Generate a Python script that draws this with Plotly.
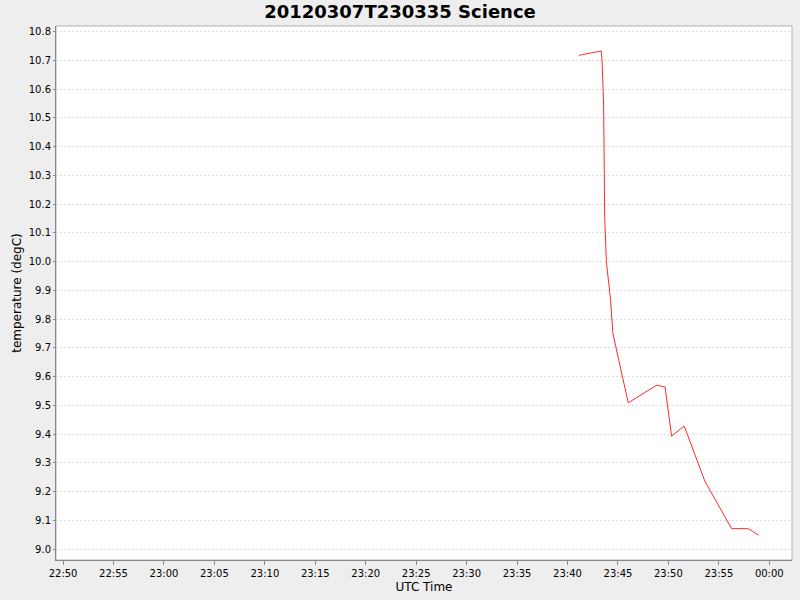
import plotly.graph_objects as go

# readings picked off the reference chart
times = [
    "2012-03-07 23:41:08", "2012-03-07 23:42:00", "2012-03-07 23:43:20",
    "2012-03-07 23:43:25", "2012-03-07 23:43:29", "2012-03-07 23:43:35",
    "2012-03-07 23:43:41", "2012-03-07 23:43:51", "2012-03-07 23:44:16",
    "2012-03-07 23:44:30", "2012-03-07 23:46:01", "2012-03-07 23:48:50",
    "2012-03-07 23:49:40", "2012-03-07 23:50:19", "2012-03-07 23:51:34",
    "2012-03-07 23:53:37", "2012-03-07 23:56:16", "2012-03-07 23:57:55",
    "2012-03-07 23:58:57",
]
temps = [
    10.718, 10.724, 10.733,
    10.707, 10.626, 10.542,
    10.157, 10.0, 9.868,
    9.75, 9.509, 9.570,
    9.564, 9.393, 9.428,
    9.236, 9.071, 9.071,
    9.048,
]

title = "20120307T230335 Science"
x_range = ["2012-03-07 22:49:18", "2012-03-08 00:02:15"]
y_range = [8.962, 10.82]

fig = go.Figure()
fig.add_trace(go.Scatter(x=times, y=temps, mode="lines",
                         line=dict(color="#ff2a2a", width=1),
                         showlegend=False))

axis = dict(showline=True, linecolor="#888888", linewidth=1, zeroline=False,
            ticks="outside", tickcolor="#888888", automargin=False,
            tickfont=dict(family="DejaVu Sans", size=10, color="#000000"))

fig.update_xaxes(axis, showgrid=False, type="date", range=x_range,
                 tick0="2012-03-07 22:50", dtick=300000, tickformat="%H:%M", ticklen=4,
                 title=dict(text="UTC Time", font=dict(family="DejaVu Sans", size=12, color="#000000"),
                            standoff=4))
fig.update_yaxes(axis, showgrid=True, gridcolor="#dcdcdc", gridwidth=1, griddash="2px,2px",
                 range=y_range, dtick=0.1, tickformat=".1f", ticklen=2,
                 title=dict(text="temperature (degC)", font=dict(family="DejaVu Sans", size=12, color="#000000"),
                            standoff=4))

# light frame round the plot area
fig.add_shape(type="rect", xref="paper", yref="paper", x0=0, y0=0, x1=1, y1=1,
              line=dict(color="#b4b4b4", width=1), layer="below")

fig.update_layout(
    width=800, height=600,
    paper_bgcolor="#eeeeee", plot_bgcolor="#ffffff",
    margin=dict(l=56, r=8, t=26, b=40),
    title=dict(text="<b>" + title + "</b>", x=0.5, xanchor="center",
               y=1 - 12 / 600, yanchor="middle",
               font=dict(family="DejaVu Sans", size=18, color="#000000")),
)

# drop the browser's default body margin so the figure sits at the page corner
fig.write_html("out.html", config={"displayModeBar": False},
               post_script="document.body.style.margin='0';document.body.style.overflow='hidden';")
